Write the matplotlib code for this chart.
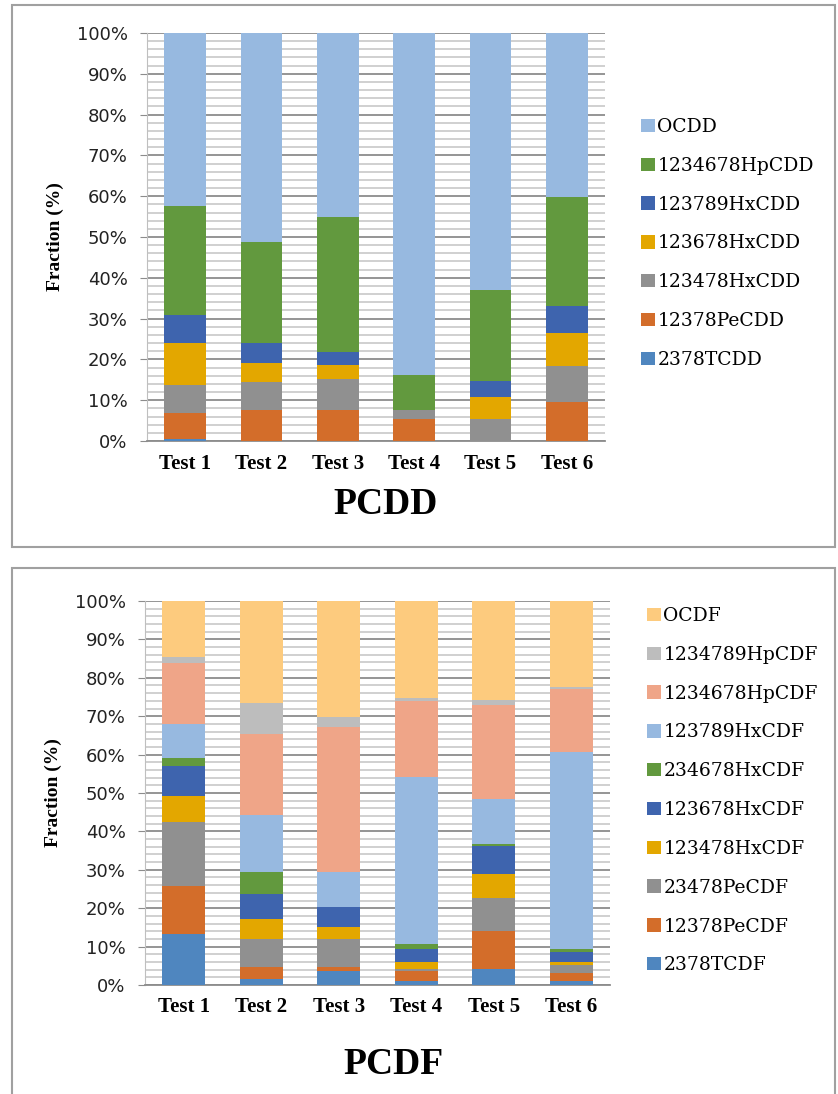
import numpy as np
import matplotlib
matplotlib.use('Agg')
import matplotlib.pyplot as plt
from matplotlib.patches import Rectangle
from matplotlib.ticker import MultipleLocator, FuncFormatter

tests = ['Test 1', 'Test 2', 'Test 3', 'Test 4', 'Test 5', 'Test 6']

# PCDD congener fractions (%), bottom of the stack first
pcdd_names = ['2378TCDD', '12378PeCDD', '123478HxCDD', '123678HxCDD',
              '123789HxCDD', '1234678HpCDD', 'OCDD']
tcdd = [0.6, 0.0, 0.0, 0.0, 0.0, 0.0]
pecdd = [6.3, 7.5, 7.5, 5.5, 0.0, 9.6]
hxcdd_123478 = [6.8, 7.0, 7.8, 2.0, 5.5, 8.8]
hxcdd_123678 = [10.2, 4.7, 3.4, 0.0, 5.3, 8.0]
hxcdd_123789 = [7.1, 4.7, 3.0, 0.0, 3.8, 6.8]
hpcdd = [26.7, 24.9, 33.1, 8.7, 22.5, 26.6]
ocdd = [42.3, 51.2, 45.2, 83.8, 62.9, 40.2]
pcdd_colors = ['#4f86bf', '#d36d2a', '#909090', '#e3a700',
               '#3e64ae', '#62993e', '#97b9e0']

# PCDF congener fractions (%), bottom of the stack first
pcdf_names = ['2378TCDF', '12378PeCDF', '23478PeCDF', '123478HxCDF',
              '123678HxCDF', '234678HxCDF', '123789HxCDF', '1234678HpCDF',
              '1234789HpCDF', 'OCDF']
tcdf = [13.3, 1.6, 3.7, 1.1, 4.2, 1.0]
pecdf_12378 = [12.5, 3.1, 1.0, 2.6, 9.9, 2.0]
pecdf_23478 = [16.7, 7.2, 7.2, 0.5, 8.5, 2.2]
hxcdf_123478 = [6.7, 5.3, 3.1, 1.9, 6.3, 0.9]
hxcdf_123678 = [7.9, 6.4, 5.4, 3.2, 7.3, 2.6]
hxcdf_234678 = [1.9, 5.7, 0.0, 1.3, 0.4, 0.8]
hxcdf_123789 = [9.0, 14.9, 8.9, 43.5, 11.8, 51.3]
hpcdf_1234678 = [15.8, 21.2, 37.8, 19.9, 24.5, 16.3]
hpcdf_1234789 = [1.6, 8.0, 2.6, 0.7, 1.3, 0.6]
ocdf = [14.6, 26.6, 30.3, 25.3, 25.8, 22.3]
pcdf_colors = ['#4f86bf', '#d36d2a', '#909090', '#e3a700', '#3e64ae',
               '#62993e', '#97b9e0', '#efa588', '#bdbdbd', '#fdcb7e']

W, H = 838, 1094


def stacked_panel(fig, rect, names, series, colors, title, title_xy,
                  legend_xy):
  ax = fig.add_axes(rect)
  x = np.arange(len(tests))
  bottom = np.zeros(len(tests))
  for name, vals, color in zip(names, series, colors):
    vals = np.asarray(vals, dtype=float)
    ax.bar(x, vals, 0.55, bottom=bottom, color=color, label=name,
           edgecolor='none', zorder=3)
    bottom += vals

  ax.set_xlim(-0.5, len(tests) - 0.5)
  ax.set_ylim(0, 100)
  ax.yaxis.set_major_locator(MultipleLocator(10))
  ax.yaxis.set_minor_locator(MultipleLocator(2))
  ax.yaxis.set_major_formatter(FuncFormatter(lambda v, p: '%d%%' % v))
  ax.set_axisbelow(True)
  ax.grid(which='major', axis='y', color='#8c8c8c', lw=1.3)
  ax.grid(which='minor', axis='y', color='#c4c4c4', lw=1.1)

  for side in ('top', 'right'):
    ax.spines[side].set_visible(False)
  ax.spines['left'].set_color('#bfbfbf')
  ax.spines['bottom'].set_color('#8c8c8c')
  ax.spines['bottom'].set_linewidth(1.3)

  ax.tick_params(axis='y', which='major', length=5, color='#8c8c8c',
                 pad=9, labelsize=13, labelcolor='#222222')
  ax.tick_params(axis='y', which='minor', length=0)
  ax.tick_params(axis='x', length=0, pad=9)
  ax.set_xticks(x)
  ax.set_xticklabels(tests, family='Liberation Serif', weight='bold',
                     fontsize=15)
  for lab in ax.get_yticklabels():
    lab.set_family('DejaVu Sans')

  ax.set_ylabel('Fraction (%)', family='Liberation Serif', weight='bold',
                fontsize=14, labelpad=9)

  fig.text(title_xy[0] / W, 1 - title_xy[1] / H, title,
           family='Liberation Serif', weight='bold', fontsize=27,
           ha='center', va='center')

  handles, labels = ax.get_legend_handles_labels()
  ax.legend(handles[::-1], labels[::-1], loc='upper left',
            bbox_to_anchor=(legend_xy[0] / W, 1 - legend_xy[1] / H),
            bbox_transform=fig.transFigure, frameon=False,
            prop={'family': 'DejaVu Serif', 'size': 13.5},
            handlelength=0.72, handleheight=0.72, handletextpad=0.15,
            labelspacing=1.11, borderpad=0, borderaxespad=0)
  return ax


def main():
  fig = plt.figure(figsize=(W / 100, H / 100), dpi=100)

  # grey frames around the two panels
  for (x0, y0, x1, y1) in [(12, 5, 835, 547), (12, 568, 835, 1100)]:
    fig.patches.append(Rectangle((x0 / W, 1 - y1 / H), (x1 - x0) / W,
                                 (y1 - y0) / H, transform=fig.transFigure,
                                 fill=False, edgecolor='#a0a0a0', lw=1.5))

  stacked_panel(fig, [147 / W, 1 - 441 / H, 458 / W, 408 / H],
                pcdd_names,
                [tcdd, pecdd, hxcdd_123478, hxcdd_123678, hxcdd_123789,
                 hpcdd, ocdd],
                pcdd_colors, 'PCDD', (386, 505), (641, 118))

  stacked_panel(fig, [145 / W, 1 - 985 / H, 465 / W, 384 / H],
                pcdf_names,
                [tcdf, pecdf_12378, pecdf_23478, hxcdf_123478, hxcdf_123678,
                 hxcdf_234678, hxcdf_123789, hpcdf_1234678, hpcdf_1234789,
                 ocdf],
                pcdf_colors, 'PCDF', (393, 1064), (647, 607))

  fig.savefig('out.png', dpi=100)


if __name__ == "__main__":
  main()
